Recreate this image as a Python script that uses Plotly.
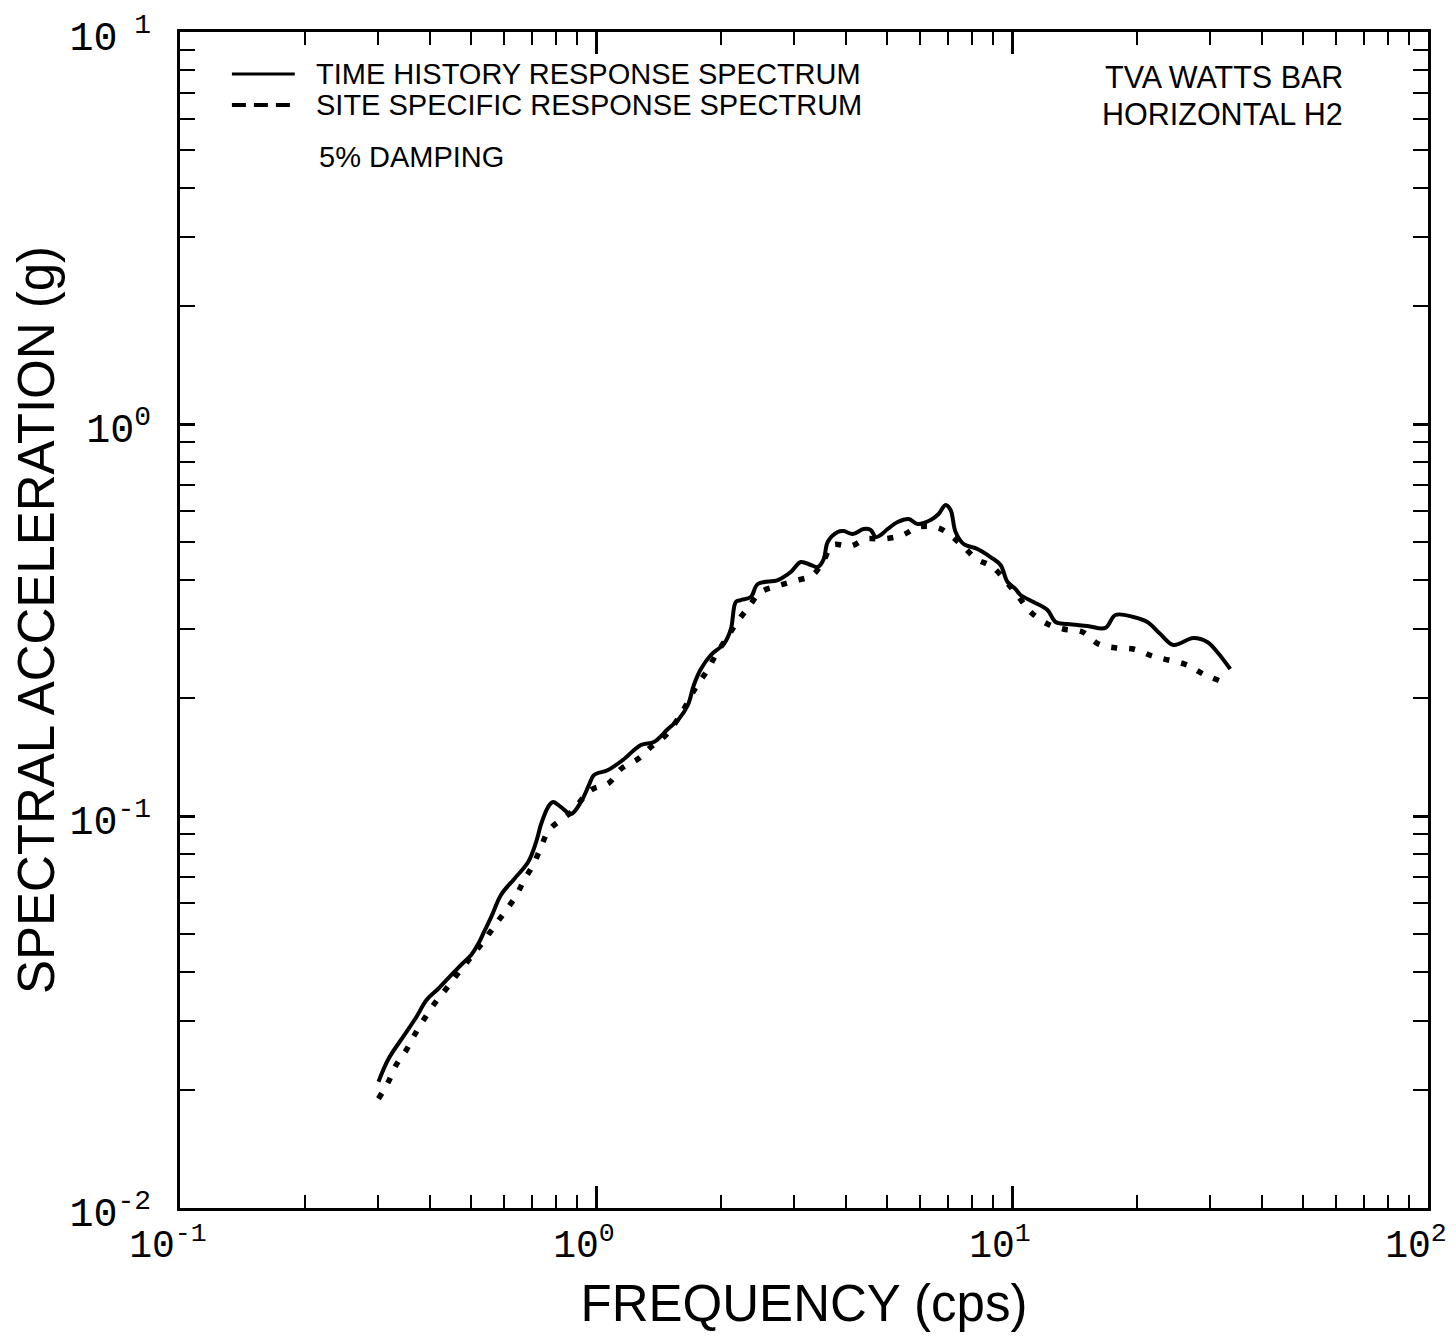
import plotly.graph_objects as go

# Time history response spectrum (solid)
th_freq = [0.30, 0.317, 0.346, 0.370, 0.391, 0.417, 0.444, 0.474, 0.501, 0.524, 0.538, 0.560,
           0.591, 0.636, 0.687, 0.718, 0.738, 0.767, 0.788, 0.824, 0.871, 0.920, 0.962, 0.989,
           1.069, 1.161, 1.282, 1.378, 1.489, 1.582, 1.663, 1.719, 1.787, 1.889, 2.029, 2.110,
           2.168, 2.229, 2.356, 2.449, 2.735, 2.939, 3.106, 3.283, 3.412, 3.527, 3.606, 3.811,
           3.939, 4.140, 4.400, 4.574, 4.702, 4.834, 5.024, 5.311, 5.643, 5.932, 6.374, 6.662,
           6.925, 7.119, 7.318, 7.649, 8.263, 8.879, 9.385, 9.755, 10.19, 10.48, 11.26, 12.17,
           12.72, 13.59, 15.18, 16.77, 17.72, 19.57, 21.15, 22.73, 24.43, 27.28, 29.47, 31.14,
           33.47]
th_acc = [0.0210, 0.0240, 0.0276, 0.0307, 0.0339, 0.0362, 0.0388, 0.0417, 0.0442, 0.0477, 0.0506, 0.0553,
          0.0629, 0.0691, 0.0763, 0.0859, 0.0954, 0.1054, 0.1086, 0.1054, 0.1012, 0.1086, 0.120, 0.1272,
          0.1310, 0.1390, 0.1518, 0.1545, 0.1667, 0.1768, 0.1919, 0.2159, 0.2371, 0.2575, 0.2748, 0.2999,
          0.3515, 0.3556, 0.3620, 0.3907, 0.3999, 0.4191, 0.4446, 0.4368, 0.4317, 0.4524, 0.5000, 0.5302,
          0.5333, 0.5240, 0.5396, 0.5365, 0.5148, 0.5209, 0.5396, 0.5623, 0.5724, 0.5558, 0.5690, 0.5894,
          0.6213, 0.6033, 0.5302, 0.4942, 0.4799, 0.4578, 0.4368, 0.3953, 0.3795, 0.3664, 0.3515, 0.3353,
          0.3126, 0.3090, 0.3054, 0.3018, 0.3257, 0.3219, 0.3126, 0.2912, 0.2731, 0.2844, 0.2779, 0.2621,
          0.2371]

# Site specific response spectrum (dotted)
ss_freq = [0.300, 0.317, 0.331, 0.350, 0.366, 0.386, 0.408, 0.436, 0.461, 0.501, 0.535, 0.566,
           0.601, 0.642, 0.672, 0.706, 0.738, 0.771, 0.871, 0.973, 1.074, 1.148, 1.261, 1.355,
           1.473, 1.600, 1.739, 1.848, 1.952, 2.063, 2.168, 2.317, 2.490, 2.721, 2.988, 3.319,
           3.527, 3.707, 4.096, 4.449, 4.915, 5.459, 5.965, 6.662, 7.44, 8.217, 8.98, 10.37,
           11.08, 12.17, 13.29, 14.77, 16.13, 17.82, 19.57, 21.74, 23.76, 26.39, 28.83, 31.66]
ss_acc = [0.0190, 0.0210, 0.0232, 0.0253, 0.0276, 0.0303, 0.0331, 0.0362, 0.0391, 0.0437, 0.0477, 0.0518,
          0.0566, 0.0625, 0.0687, 0.0750, 0.0834, 0.0921, 0.1023, 0.1165, 0.1214, 0.1318, 0.1397, 0.150,
          0.1609, 0.182, 0.2133, 0.2344, 0.2604, 0.2844, 0.309, 0.3393, 0.3727, 0.386, 0.3976, 0.4119,
          0.4497, 0.4913, 0.4884, 0.5088, 0.5088, 0.5209, 0.5460, 0.5428, 0.500, 0.4524, 0.4317, 0.362,
          0.3314, 0.309, 0.300, 0.2946, 0.2748, 0.2684, 0.2667, 0.2560, 0.2500, 0.2427, 0.2302, 0.2210]

decades = [0.01, 0.1, 1, 10, 100]
x_ticktext = ["10<sup>-1</sup>", "10<sup>0</sup>", "10<sup>1</sup>", "10<sup>2</sup>"]
y_ticktext = ["10<sup>-2</sup>", "10<sup>-1</sup>", "10<sup>0</sup>", "10<sup> 1</sup>"]

legend_labels = ["TIME HISTORY RESPONSE SPECTRUM", "SITE SPECIFIC RESPONSE SPECTRUM"]
damping_text = "5% DAMPING"
site_text = ["TVA WATTS BAR", "HORIZONTAL H2"]

minor_vals = [d * m for d in decades for m in range(2, 10)]

fig = go.Figure()
fig.add_trace(go.Scatter(x=th_freq, y=th_acc, mode="lines",
                         line=dict(color="black", width=4), line_shape="spline",
                         showlegend=False))
fig.add_trace(go.Scatter(x=ss_freq, y=ss_acc, mode="lines",
                         line=dict(color="black", width=5.5, dash="6px,12px"), line_shape="spline",
                         showlegend=False))

tickfont = dict(family="Liberation Mono, Courier New, monospace", size=40, color="black")
xtickfont = dict(family="Liberation Mono, Courier New, monospace", size=38, color="black")
titlefont = dict(family="Liberation Sans, Arial", size=51, color="black")
fig.update_xaxes(type="log", range=[-1, 2], tickvals=decades[1:], ticktext=x_ticktext,
                 ticks="inside", ticklen=22, tickwidth=2.5, tickcolor="black",
                 showline=True, linewidth=3, linecolor="black", mirror="ticks",
                 showgrid=False, zeroline=False, tickfont=xtickfont, automargin=False,
                 ticklabeloverflow="allow", ticklabelshift=-12,
                 minor=dict(tickvals=minor_vals, ticks="inside", ticklen=13, tickwidth=2,
                            tickcolor="black", showgrid=False),
                 title=dict(text="FREQUENCY (cps)", font=titlefont, standoff=20))
fig.update_yaxes(type="log", range=[-2, 1], tickvals=decades[:4], ticktext=y_ticktext,
                 ticks="inside", ticklen=15, tickwidth=2.5, tickcolor="black",
                 showline=True, linewidth=3, linecolor="black", mirror="ticks",
                 showgrid=False, zeroline=False, tickfont=tickfont, automargin=False,
                 ticklabelstandoff=18, ticklabeloverflow="allow", ticklabelshift=4,
                 minor=dict(tickvals=minor_vals, ticks="inside", ticklen=15, tickwidth=2,
                            tickcolor="black", showgrid=False),
                 title=dict(text="SPECTRAL ACCELERATION (g)", font=titlefont, standoff=2))

txtfont = dict(family="Liberation Sans, Arial", size=29, color="black")
txtfont2 = dict(family="Liberation Sans, Arial", size=30.5, color="black")
# legend samples
fig.add_shape(type="line", xref="paper", yref="paper", x0=0.0416, x1=0.092, y0=0.9643, y1=0.9643,
              line=dict(color="black", width=3))
fig.add_shape(type="line", xref="paper", yref="paper", x0=0.0416, x1=0.092, y0=0.9379, y1=0.9379,
              line=dict(color="black", width=4, dash="14px,8px"))
fig.add_annotation(text=legend_labels[0], xref="paper", yref="paper", x=0.1072, y=0.9643,
                   xanchor="left", yanchor="middle", showarrow=False, font=txtfont)
fig.add_annotation(text=legend_labels[1], xref="paper", yref="paper", x=0.1072, y=0.9379,
                   xanchor="left", yanchor="middle", showarrow=False, font=txtfont)
fig.add_annotation(text=damping_text, xref="paper", yref="paper", x=0.1096, y=0.8937,
                   xanchor="left", yanchor="middle", showarrow=False, font=txtfont)
fig.add_annotation(text=site_text[0], xref="paper", yref="paper", x=0.9336, y=0.9617,
                   xanchor="right", yanchor="middle", showarrow=False, font=txtfont2)
fig.add_annotation(text=site_text[1], xref="paper", yref="paper", x=0.9336, y=0.9303,
                   xanchor="right", yanchor="middle", showarrow=False, font=txtfont2)

fig.update_layout(width=1448, height=1324, paper_bgcolor="white", plot_bgcolor="white",
                  margin=dict(l=172, r=28, t=24, b=124), showlegend=False)

fig.write_html("out.html")
